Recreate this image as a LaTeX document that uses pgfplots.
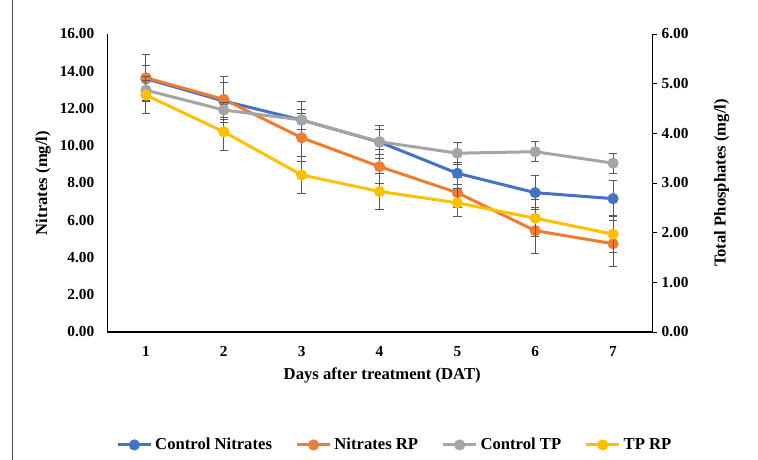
\documentclass[border=0pt]{standalone}
\usepackage{fontspec}
\setmainfont{Liberation Serif}
\usepackage{pgfplots}
\pgfplotsset{compat=1.18}
\definecolor{cblue}{HTML}{4472C4}
\definecolor{corange}{HTML}{ED7D31}
\definecolor{cgray}{HTML}{A5A5A5}
\definecolor{cyellow}{HTML}{FFC000}
\definecolor{errgray}{HTML}{595959}
\begin{document}
\begin{tikzpicture}
\path[use as bounding box] (0,0) rectangle (568.5pt,345pt);
\draw[line width=0.75pt,black!70] (9pt,0) -- (9pt,345pt);
\pgfplotsset{
  common/.style={
    scale only axis, width=408.75pt, height=223.5pt,
    at={(80.25pt,96pt)}, anchor=south west,
    xmin=0.5, xmax=7.5,
    /pgf/number format/assume math mode=true,
    ticklabel style={font=\bfseries\fontsize{11.5}{13}\selectfont},
    label style={font=\bfseries\fontsize{12.5}{14}\selectfont},
    y tick label style={/pgf/number format/fixed, /pgf/number format/fixed zerofill, /pgf/number format/precision=2},
    every axis plot/.append style={line width=2.25pt, mark=*, mark size=3pt,
      error bars/y dir=both, error bars/y explicit,
      error bars/error bar style={line width=0.75pt, errgray},
      error bars/error mark options={line width=0.75pt, errgray, mark size=3.2pt, rotate=90}},
  },
}
\begin{axis}[common,
  axis x line*=bottom, axis y line*=left,
  x axis line style={line width=1pt},
  y axis line style={line width=0.75pt},
  ymin=0, ymax=16, ytick={0,2,...,16},
  xtick={1,...,7}, xtick style={draw=none},
  ytick style={draw=none},
  xticklabel style={yshift=-7pt},
  yticklabel style={xshift=-6pt},
  xlabel={Days after treatment (DAT)},
  xlabel style={at={(axis description cs:0.505,-0.145)}, anchor=center},
  ylabel={Nitrates (mg/l)},
  ylabel style={at={(axis description cs:-0.117,0.5)}, anchor=center},
]
\addplot[cblue, mark options={fill=cblue, draw=cblue}] coordinates {
 (1,13.60) +- (0,0.70)
 (2,12.40) +- (0,1.00)
 (3,11.38) +- (0,1.00)
 (4,10.20) +- (0,0.90)
 (5,8.52) +- (0,0.60)
 (6,7.48) +- (0,0.90)
 (7,7.16) +- (0,0.95)
};
\addplot[corange, mark options={fill=corange, draw=corange}] coordinates {
 (1,13.65) +- (0,1.25)
 (2,12.49) +- (0,1.25)
 (3,10.43) +- (0,1.30)
 (4,8.88) +- (0,0.90)
 (5,7.48) +- (0,0.80)
 (6,5.44) +- (0,1.25)
 (7,4.74) +- (0,1.24)
};
\end{axis}
\begin{axis}[common,
  axis y line*=right, axis x line=none,
  y axis line style={line width=0.75pt},
  ymin=0, ymax=6, ytick={0,1,...,6},
  ytick pos=right, tick align=outside, major tick length=3.75pt,
  ytick style={black, line width=0.5pt},
  ylabel={Total Phosphates (mg/l)},
  ylabel style={at={(axis description cs:1.128,0.5)}, anchor=center, rotate=0},
  legend style={draw=none, fill=none, at={(axis description cs:0.009,-0.379)}, anchor=west,
    font=\bfseries\fontsize{12.5}{14}\selectfont, legend columns=4,
    /tikz/every even column/.append style={column sep=15.5pt},
    legend cell align=left},
  legend image code/.code={\draw[mark repeat=2,mark phase=2] plot coordinates {(0cm,0cm)(0.44cm,0cm)(0.88cm,0cm)};},
]
\addlegendimage{cblue, line width=2.25pt, mark=*, mark size=3pt, mark options={fill=cblue, draw=cblue}}
\addlegendentry{Control Nitrates}
\addlegendimage{corange, line width=2.25pt, mark=*, mark size=3pt, mark options={fill=corange, draw=corange}}
\addlegendentry{Nitrates RP}
\addplot[cgray, mark options={fill=cgray, draw=cgray}] coordinates {
 (1,4.87) +- (0,0.20)
 (2,4.47) +- (0,0.15)
 (3,4.27) +- (0,0.20)
 (4,3.83) +- (0,0.25)
 (5,3.60) +- (0,0.22)
 (6,3.63) +- (0,0.20)
 (7,3.40) +- (0,0.20)
};
\addlegendentry{Control TP}
\addplot[cyellow, mark options={fill=cyellow, draw=cyellow}] coordinates {
 (1,4.77) +- (0,0.37)
 (2,4.03) +- (0,0.37)
 (3,3.16) +- (0,0.37)
 (4,2.83) +- (0,0.37)
 (5,2.60) +- (0,0.28)
 (6,2.29) +- (0,0.37)
 (7,1.97) +- (0,0.37)
};
\addlegendentry{TP RP}
\end{axis}
\end{tikzpicture}
\end{document}
